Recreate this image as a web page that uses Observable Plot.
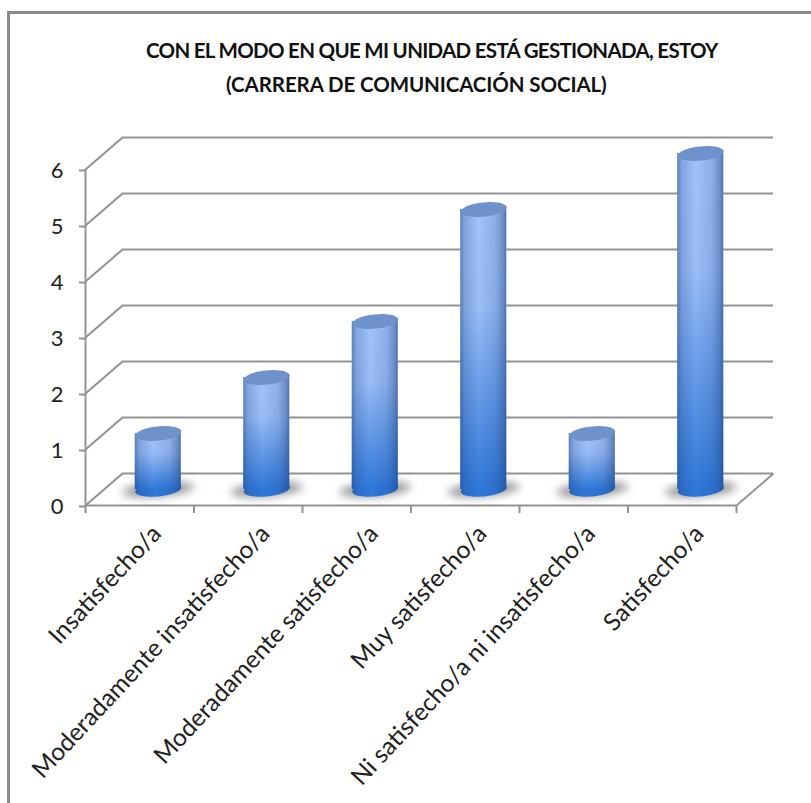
<!DOCTYPE html>
<html><head><meta charset="utf-8">
<script src="https://cdn.jsdelivr.net/npm/d3@7"></script>
<script src="https://cdn.jsdelivr.net/npm/@observablehq/plot@0.6"></script>
<style>
html,body{margin:0;padding:0;background:#fff;width:811px;height:803px;overflow:hidden}
#wrap{position:relative;width:811px;height:803px;overflow:hidden}
#box{position:absolute;left:7px;top:11px;width:900px;height:900px;border:3px solid #8a8a8a;box-sizing:border-box}
.t{position:absolute;white-space:nowrap;font:bold 20.5px/34px Lato,sans-serif;color:#111}
#t1{left:146px;top:33px;letter-spacing:-0.7px}
#t2{left:226px;top:67px;letter-spacing:-0.1px}
#chart{position:absolute;left:0;top:110px}
svg{display:block}
</style></head><body>
<div id="wrap"><div id="box"></div>
<div id="title"><div class="t" id="t1">CON EL MODO EN QUE MI UNIDAD ESTÁ GESTIONADA, ESTOY</div>
<div class="t" id="t2">(CARRERA DE COMUNICACIÓN SOCIAL)</div></div>
<div id="chart"></div></div>
<script>
const categories = ["Insatisfecho/a","Moderadamente insatisfecho/a","Moderadamente satisfecho/a","Muy satisfecho/a","Ni satisfecho/a ni insatisfecho/a","Satisfecho/a"];
const counts = [1,2,3,5,1,6];
const yTicks = [0,1,2,3,4,5,6];
const xEdges = [0,1,2,3,4,5,6];
// oblique depth of the 3D box, in data units
const depthX = 0.341, depthY = 0.571;
const barHalf = 0.212;
const rows = categories.map((c,i)=>({c,i,v:counts[i]}));
const GRID = "#929292";

function ellipseSymbol(ratio, tilt){
  return {draw(ctx,size){
    const r = Math.sqrt(size/Math.PI), ry = r*ratio, c=Math.cos(tilt), s=Math.sin(tilt);
    for(let k=0;k<=48;k++){
      const a=k/48*2*Math.PI, ex=r*Math.cos(a), ey=ry*Math.sin(a);
      const px=ex*c-ey*s, py=ex*s+ey*c;
      k?ctx.lineTo(px,py):ctx.moveTo(px,py);
    }
    ctx.closePath();
  }};
}
const defs = () => {
  const d = d3.create("svg:defs");
  const v = d.append("linearGradient").attr("id","cylV").attr("x1",0).attr("x2",0).attr("y1",0).attr("y2",1);
  v.append("stop").attr("offset","0%").attr("stop-color","#a0c3fc");
  v.append("stop").attr("offset","35%").attr("stop-color","#9abdf8");
  v.append("stop").attr("offset","100%").attr("stop-color","#2f78da");
  const h = d.append("linearGradient").attr("id","cylH");
  [[0,.5],[.1,.22],[.4,0],[.75,.14],[.92,.38],[1,.6]].forEach(([o,a])=>
    h.append("stop").attr("offset",o).attr("stop-color","#1b3f7c").attr("stop-opacity",a));
  return d.node();
};
const cx = d => d.i+.5+depthX/2;
const base = depthY/2;
const bottomCap = ellipseSymbol(.3,-.1), topCap = ellipseSymbol(.31,-.1);

const plot = Plot.plot({
  width:811, height:693,
  marginLeft:85, marginRight:75, marginTop:59, marginBottom:298,
  x:{domain:[0,6], axis:null},
  y:{domain:[0,6], axis:null},
  style:{fontFamily:"Lato, sans-serif", background:"transparent"},
  marks:[
    defs,
    // back wall & floor
    Plot.ruleY(yTicks,{y:d=>d+depthY,x1:depthX,x2:6+depthX,stroke:GRID,strokeWidth:2}),
    Plot.link(yTicks,{x1:0,y1:d=>d,x2:depthX,y2:d=>d+depthY,stroke:GRID,strokeWidth:2}),
    Plot.ruleX([0],{y1:0,y2:6,stroke:GRID,strokeWidth:2}),
    Plot.ruleY([0],{x1:0,x2:6,stroke:GRID,strokeWidth:2}),
    Plot.link([6],{x1:d=>d,y1:0,x2:d=>d+depthX,y2:depthY,stroke:GRID,strokeWidth:2}),
    // shadows
    Plot.dot(rows,{x:cx,y:base,r:36,symbol:ellipseSymbol(.2,-.08),fill:"#777",fillOpacity:.75,imageFilter:"blur(4px)"}),
    // cylinders
    Plot.dot(rows,{x:cx,y:base,r:23,symbol:bottomCap,fill:"#2f78da"}),
    Plot.dot(rows,{x:cx,y:base,r:23,symbol:bottomCap,fill:"url(#cylH)"}),
    Plot.rect(rows,{x1:d=>cx(d)-barHalf,x2:d=>cx(d)+barHalf,y1:base,y2:d=>d.v+base,fill:"url(#cylV)"}),
    Plot.rect(rows,{x1:d=>cx(d)-barHalf,x2:d=>cx(d)+barHalf,y1:base,y2:d=>d.v+base,fill:"url(#cylH)"}),
    Plot.dot(rows,{x:cx,y:d=>d.v+base,r:23,symbol:topCap,fill:"#6f92cd"}),
    // axes
    Plot.axisY({ticks:yTicks,tickSize:6,tickPadding:16,tickFormat:d3.format("d"),fontSize:22,stroke:GRID,strokeWidth:2,color:"#222",dy:1}),
    Plot.axisX({ticks:xEdges,tickSize:8,tickFormat:()=>"",stroke:GRID,strokeWidth:2}),
    Plot.text(rows,{x:d=>d.i+.5,y:0,text:"c",rotate:-47,textAnchor:"end",fontSize:24.5,fill:"#222",dx:17,dy:24})
  ]
});
document.getElementById("chart").append(plot);
</script></body></html>
